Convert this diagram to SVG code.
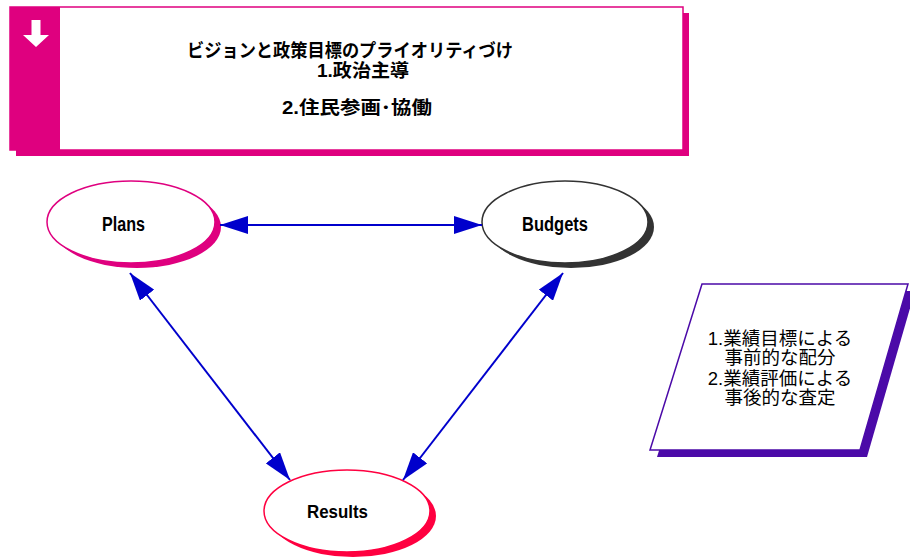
<svg xmlns="http://www.w3.org/2000/svg" width="910" height="560" viewBox="0 0 910 560">
<style>
.t{font-family:"Liberation Sans","Noto Sans CJK JP",sans-serif;text-anchor:middle;fill:#000}
.b{font-weight:bold}
.edge{stroke:#0000cc;stroke-width:2;fill:none;marker-start:url(#ah);marker-end:url(#ah)}
</style>
<defs>
<marker id="ah" markerUnits="userSpaceOnUse" markerWidth="28" markerHeight="18" refX="28" refY="9" orient="auto-start-reverse" viewBox="0 0 28 18">
<path d="M0,0 L28,9 L0,18 z" fill="#0000cc"/>
</marker>
</defs>
<rect width="910" height="560" fill="#fff"/>
<g id="header">
<rect x="16" y="13" width="673" height="143" fill="#df007f"/>
<rect x="10" y="7" width="673" height="143" fill="#fff" stroke="#df007f" stroke-width="1.5"/>
<rect x="10" y="7" width="50" height="143" fill="#df007f"/>
<path d="M31.5,20 h9 v15 h8.5 l-13,12 l-13,-12 h8.5 z" fill="#fff"/>
<text class="t b" x="350" y="57" font-size="18.5" textLength="326" lengthAdjust="spacingAndGlyphs">ビジョンと政策目標のプライオリティづけ</text>
<text class="t b" x="363" y="77" font-size="18.5" textLength="92" lengthAdjust="spacingAndGlyphs">1.政治主導</text>
<text class="t b" x="357" y="114" font-size="18.5" textLength="150" lengthAdjust="spacingAndGlyphs">2.住民参画･協働</text>
</g>
<g id="plans">
<ellipse cx="137" cy="227" rx="84" ry="41" fill="#df007f"/>
<ellipse cx="131" cy="222" rx="84" ry="41" fill="#fff" stroke="#df007f" stroke-width="1.5"/>
<text class="t b" x="123.5" y="231" font-size="19.5" textLength="43" lengthAdjust="spacingAndGlyphs">Plans</text>
</g>
<g id="budgets">
<ellipse cx="571" cy="227" rx="83" ry="41" fill="#333"/>
<ellipse cx="565" cy="222" rx="83" ry="41" fill="#fff" stroke="#333" stroke-width="1.5"/>
<text class="t b" x="555" y="231" font-size="19.5" textLength="66" lengthAdjust="spacingAndGlyphs">Budgets</text>
</g>
<g id="results">
<ellipse cx="353" cy="516" rx="83" ry="41" fill="#ff0040"/>
<ellipse cx="347" cy="511" rx="83" ry="41" fill="#fff" stroke="#ff0040" stroke-width="1.5"/>
<text class="t b" x="337.5" y="518" font-size="19" textLength="61" lengthAdjust="spacingAndGlyphs">Results</text>
</g>
<g id="note">
<polygon points="709,291 915,291 867,457 657,457" fill="#4b0aa8"/>
<polygon points="702,284 908,284 860,450 650,450" fill="#fff" stroke="#4b0aa8" stroke-width="1.5"/>
<text class="t" font-size="18.5"><tspan x="780" y="345">1.業績目標による</tspan><tspan x="780" y="364">事前的な配分</tspan><tspan x="780" y="385">2.業績評価による</tspan><tspan x="780" y="404">事後的な査定</tspan></text>
</g>
<g id="connectors">
<line class="edge" x1="220" y1="225" x2="482" y2="225"/>
<line class="edge" x1="130" y1="273" x2="290" y2="480"/>
<line class="edge" x1="563" y1="273" x2="403" y2="480"/>
</g>
</svg>
